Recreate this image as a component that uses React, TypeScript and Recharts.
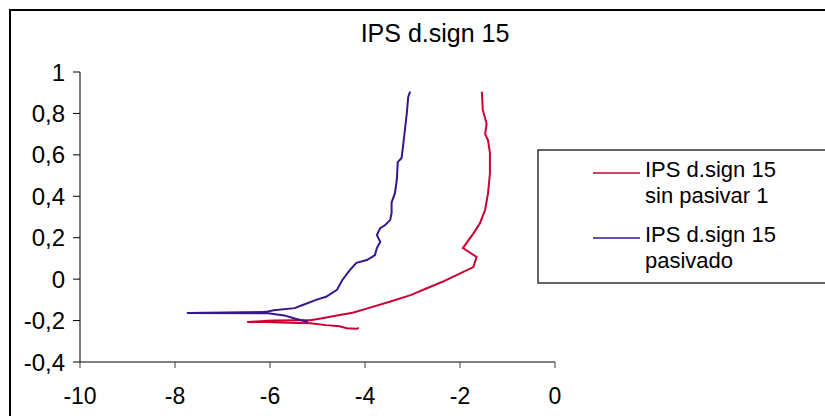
import React from 'react';
import { LineChart, Line, XAxis, YAxis } from 'recharts';

// IPS d.sign 15 sin pasivar 1 (red), in scan order
const sinPasivarX = [
  -4.13, -4.19, -4.38, -4.54, -4.82, -5.15, -5.6, -6.1, -6.48, -6.2, -5.92, -5.5, -5.15, -4.93, -4.59,
  -4.26, -3.93, -3.48, -3.04, -2.71, -2.38, -2.25, -1.94, -1.72, -1.65, -1.94, -1.72, -1.58,
  -1.47, -1.41, -1.37, -1.37, -1.41, -1.47, -1.44, -1.52, -1.54,
];
const sinPasivarY = [
  -0.236, -0.24, -0.237, -0.227, -0.222, -0.213, -0.21, -0.207, -0.207, -0.203, -0.2, -0.199, -0.198, -0.19, -0.175,
  -0.162, -0.14, -0.109, -0.077, -0.045, -0.014, 0, 0.034, 0.058, 0.107, 0.15, 0.22, 0.27,
  0.335, 0.415, 0.51, 0.61, 0.67, 0.7, 0.75, 0.817, 0.905,
];

// IPS d.sign 15 pasivado (purple), in scan order
const pasivadoX = [
  -5.2, -5.48, -5.7, -6.04, -7.75, -6.09, -5.92, -5.48, -5.31, -5.03, -4.82, -4.59, -4.48, -4.32,
  -4.18, -3.96, -3.79, -3.75, -3.68, -3.75, -3.68, -3.58, -3.47, -3.44, -3.44, -3.37, -3.33, -3.31,
  -3.23, -3.2, -3.16, -3.12, -3.09, -3.05,
];
const pasivadoY = [
  -0.207, -0.19, -0.175, -0.165, -0.163, -0.158, -0.15, -0.14, -0.125, -0.1, -0.085, -0.052, -0.005, 0.044,
  0.079, 0.092, 0.116, 0.15, 0.18, 0.213, 0.246, 0.26, 0.285, 0.32, 0.37, 0.415, 0.48, 0.565,
  0.585, 0.64, 0.72, 0.8, 0.88, 0.905,
];

const xTicks = [-10, -8, -6, -4, -2, 0];
const yTicks = [-0.4, -0.2, 0, 0.2, 0.4, 0.6, 0.8, 1];

const chartTitle = 'IPS d.sign 15';
const series = [
  { name: ['IPS d.sign 15', 'sin pasivar 1'], color: '#CC0033', xs: sinPasivarX, ys: sinPasivarY },
  { name: ['IPS d.sign 15', 'pasivado'], color: '#35168C', xs: pasivadoX, ys: pasivadoY },
];

const toPoints = (xs: number[], ys: number[]) => xs.map((x, i) => ({ x, y: ys[i] }));

const font = '"Liberation Sans", Arial, sans-serif';

export default function App() {
  // frame starts at page (9,9), 2px border, so plot coords below are page - 11
  const W = 814;
  const H = 405;
  return (
    <div
      style={{
        position: 'fixed',
        left: 9,
        top: 9,
        width: W,
        height: H,
        borderTop: '2px solid #000',
        borderLeft: '2px solid #000',
        overflow: 'hidden',
        fontFamily: font,
        background: '#fff',
      }}
    >
      <LineChart width={W} height={H} margin={{ top: 61, right: W - 544, bottom: 0, left: 0 }}>
        <XAxis
          type="number"
          dataKey="x"
          domain={[-10, 0]}
          ticks={xTicks}
          allowDataOverflow
          height={H - 351}
          axisLine={{ stroke: '#808080', strokeWidth: 2 }}
          tickLine={{ stroke: '#404040' }}
          tickSize={6}
          tickMargin={20}
          tick={{ fill: '#000', fontSize: 23, fontFamily: font }}
        />
        <YAxis
          type="number"
          dataKey="y"
          domain={[-0.4, 1]}
          ticks={yTicks}
          allowDataOverflow
          width={69}
          axisLine={{ stroke: '#000', strokeWidth: 1 }}
          tickLine={{ stroke: '#000' }}
          tickSize={7}
          tickMargin={8}
          tickFormatter={(v: number) => String(Math.round(v * 10) / 10).replace('.', ',')}
          tick={{ fill: '#000', fontSize: 24, fontFamily: font }}
        />
        {series.map((s) => (
          <Line
            key={s.name.join(' ')}
            data={toPoints(s.xs, s.ys)}
            dataKey="y"
            name={s.name.join(' ')}
            stroke={s.color}
            strokeWidth={2}
            dot={false}
            activeDot={false}
            isAnimationActive={false}
          />
        ))}
      </LineChart>
      <svg
        width={W}
        height={H}
        style={{ position: 'absolute', left: 0, top: 0, pointerEvents: 'none' }}
      >
        <text x={424} y={31} textAnchor="middle" fontSize={25} fontFamily={font} fill="#000">
          {chartTitle}
        </text>
        <rect x={527} y={139} width={320} height={133} fill="#fff" stroke="#333" strokeWidth={1.5} />
        {series.map((s, i) => {
          const ly = 162 + i * 65;
          return (
            <g key={i}>
              <line x1={582} x2={629} y1={ly} y2={ly} stroke={s.color} strokeWidth={1.5} />
              <text x={634} y={ly + 4} fontSize={22} fontFamily={font} fill="#000">
                {s.name.map((part, j) => (
                  <tspan key={j} x={634} dy={j === 0 ? 0 : 26}>
                    {part}
                  </tspan>
                ))}
              </text>
            </g>
          );
        })}
      </svg>
    </div>
  );
}
